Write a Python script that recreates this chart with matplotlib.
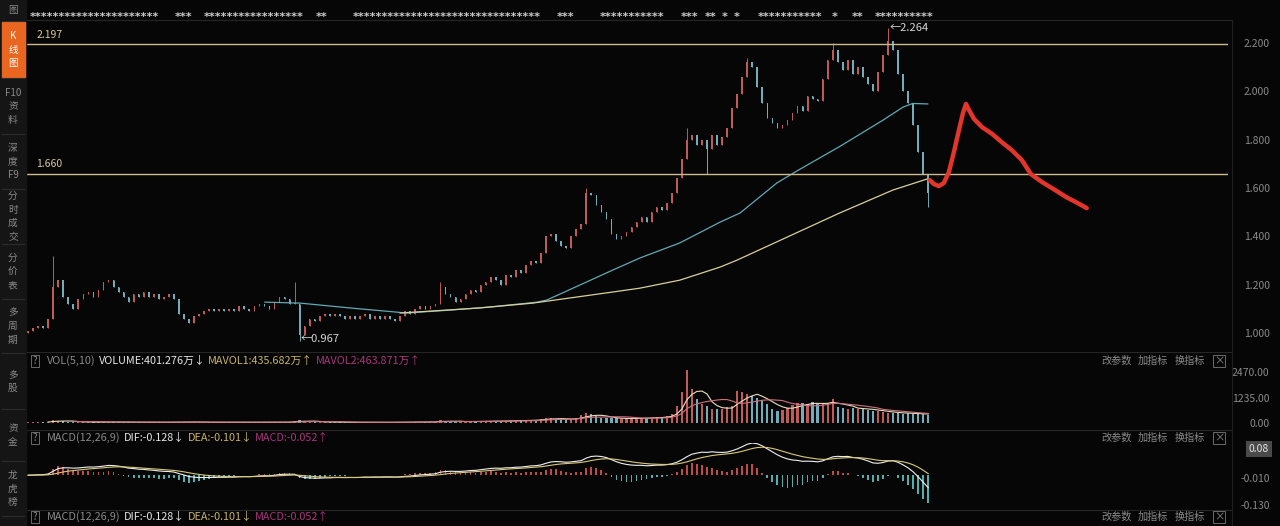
import numpy as np
import pandas as pd
import matplotlib
matplotlib.use("Agg")
import matplotlib.pyplot as plt
from matplotlib.patches import Rectangle

plt.rcParams['font.family'] = ['Noto Sans CJK SC', 'DejaVu Sans']

# ============================================
# DONNEES
# ============================================
close = [
    1.01, 1.02, 1.03, 1.02, 1.06, 1.19, 1.22, 1.15, 1.12, 1.10,
    1.14, 1.16, 1.17, 1.15, 1.18, 1.21, 1.22, 1.19, 1.17, 1.15,
    1.13, 1.16, 1.15, 1.17, 1.15, 1.16, 1.14, 1.15, 1.16, 1.14,
    1.08, 1.06, 1.04, 1.07, 1.08, 1.09, 1.10, 1.09, 1.10, 1.09,
    1.10, 1.09, 1.11, 1.10, 1.09, 1.11, 1.12, 1.11, 1.10, 1.13,
    1.15, 1.14, 1.12, 1.12, 0.99, 1.03, 1.06, 1.05, 1.07, 1.08,
    1.07, 1.08, 1.07, 1.06, 1.07, 1.06, 1.07, 1.08, 1.06, 1.07,
    1.06, 1.07, 1.06, 1.05, 1.07, 1.09, 1.08, 1.10, 1.11, 1.10,
    1.11, 1.12, 1.19, 1.16, 1.15, 1.13, 1.14, 1.16, 1.18, 1.17,
    1.20, 1.21, 1.23, 1.22, 1.20, 1.24, 1.23, 1.26, 1.25, 1.28,
    1.30, 1.29, 1.33, 1.40, 1.41, 1.38, 1.36, 1.35, 1.40, 1.43,
    1.45, 1.58, 1.57, 1.53, 1.50, 1.47, 1.41, 1.39, 1.40, 1.42,
    1.44, 1.46, 1.48, 1.46, 1.50, 1.52, 1.51, 1.54, 1.58, 1.64,
    1.72, 1.80, 1.82, 1.78, 1.80, 1.76, 1.82, 1.78, 1.81, 1.85,
    1.93, 1.99, 2.06, 2.12, 2.10, 2.02, 1.95, 1.89, 1.87, 1.85,
    1.86, 1.88, 1.91, 1.94, 1.92, 1.98, 1.97, 1.96, 2.05, 2.13,
    2.17, 2.12, 2.09, 2.13, 2.07, 2.10, 2.06, 2.03, 2.00, 2.08,
    2.15, 2.21, 2.17, 2.07, 2.00, 1.95, 1.86, 1.75, 1.66, 1.58,
]
first_open = 1.00
wick_high = {5: 1.32, 53: 1.21, 82: 1.21, 111: 1.60, 131: 1.85, 143: 2.14, 160: 2.20, 171: 2.264}
wick_low = {54: 0.967, 135: 1.66, 179: 1.52}

volume = [
    40, 35, 45, 50, 70, 160, 120, 80, 60, 50,
    45, 50, 40, 45, 55, 50, 45, 40, 45, 40,
    40, 35, 40, 38, 35, 40, 36, 35, 38, 35,
    60, 50, 45, 40, 38, 36, 35, 34, 36, 35,
    34, 35, 33, 36, 35, 38, 40, 42, 45, 40,
    42, 40, 38, 110, 150, 80, 60, 50, 45, 42,
    40, 38, 36, 35, 34, 35, 33, 32, 34, 33,
    34, 35, 33, 36, 40, 45, 50, 55, 52, 50,
    55, 60, 150, 90, 70, 60, 65, 70, 75, 72,
    80, 85, 90, 95, 100, 110, 105, 120, 130, 125,
    140, 150, 200, 260, 220, 190, 180, 170, 200, 260,
    380, 480, 420, 320, 260, 230, 250, 220, 200, 210,
    230, 240, 250, 230, 260, 280, 300, 350, 420, 820,
    1480, 2550, 1650, 1150, 900, 800, 660, 700, 660, 780,
    820, 1560, 1500, 1400, 1300, 1200, 1070, 900, 700, 600,
    650, 750, 880, 990, 950, 900, 1000, 920, 960, 980,
    1150, 780, 740, 700, 720, 680, 660, 650, 600, 560,
    540, 500, 480, 480, 459, 470, 450, 430, 430, 401,
]

# moyennes mobiles (indice de barre, prix)
ma_cyan_idx = [47.1, 54.1, 64.0, 75.3, 83.9, 91.8, 101.2, 103.2, 116.3, 121.7, 129.6,
               137.6, 141.6, 148.9, 152.9, 161.4, 170.0, 174.0, 175.9, 178.9]
ma_cyan_val = [1.128, 1.124, 1.104, 1.083, 1.095, 1.108, 1.128, 1.137, 1.261, 1.311, 1.373,
               1.459, 1.497, 1.621, 1.671, 1.772, 1.881, 1.935, 1.950, 1.948]
ma_yel_idx = [74.0, 89.9, 100.4, 116.3, 121.7, 129.6, 137.6, 141.0, 161.4, 172.0, 178.7]
ma_yel_val = [1.083, 1.104, 1.124, 1.170, 1.186, 1.219, 1.273, 1.302, 1.497, 1.592, 1.637]

# trait rouge dessine a la main
red_idx = [179.3, 180.1, 181.1, 182.1, 183.1, 184.1, 185.1, 185.9, 186.5, 187.1, 188.1,
           189.7, 191.7, 193.6, 195.6, 197.6, 199.4, 201.6, 203.9, 206.4, 208.7, 210.5]
red_val = [1.633, 1.617, 1.608, 1.621, 1.666, 1.749, 1.840, 1.910, 1.948, 1.923, 1.886,
           1.852, 1.824, 1.790, 1.757, 1.716, 1.658, 1.625, 1.596, 1.563, 1.538, 1.517]

levels = [2.197, 1.660]
price_ticks = [1.0, 1.2, 1.4, 1.6, 1.8, 2.0, 2.2]
vol_ticks = [0, 1235, 2470]

# ============================================
# MISE EN PAGE
# ============================================
W, H = 1280, 526
BG = '#060606'
RED = '#c25a5a'
CYAN = '#70aebb'
GRAY = '#8a8a8a'
KHAKI = '#c9b26a'
MAGENTA = '#a8357a'


def rect(x0, y0, x1, y1):
    return [x0 / W, 1 - y1 / H, (x1 - x0) / W, (y1 - y0) / H]


fig = plt.figure(figsize=(12.8, 5.26), dpi=100, facecolor=BG)
XLIM = (-0.4, 238.6)

c = np.array(close)
o = np.r_[first_open, c[:-1]]
hi = np.maximum(o, c)
lo = np.minimum(o, c)
for k, v in wick_high.items():
    hi[k] = v
for k, v in wick_low.items():
    lo[k] = v
x = np.arange(len(c))
cols = np.where(c >= o, RED, CYAN)


def style_axis(a):
    a.set_facecolor(BG)
    a.set_xlim(*XLIM)
    for s in a.spines.values():
        s.set_visible(False)
    a.set_xticks([])
    a.yaxis.tick_right()
    a.tick_params(axis='y', length=0, colors=GRAY, labelsize=7.5, pad=30)
    for lab in a.get_yticklabels():
        lab.set_horizontalalignment('right')


# --- prix ---
ax = fig.add_axes(rect(26, 22, 1228, 350))
ax.set_ylim(0.930, 2.287)
ax.set_yticks(price_ticks)
ax.set_yticklabels([f'{t:.3f}' for t in price_ticks])
style_axis(ax)

ax.vlines(x, lo, hi, colors=cols, lw=0.7)
ax.bar(x, np.maximum(np.abs(c - o), 0.004), bottom=np.minimum(o, c), width=0.32,
       color=cols, lw=0)
ax.plot(ma_cyan_idx, ma_cyan_val, color='#62a9b4', lw=0.9)
ax.plot(ma_yel_idx, ma_yel_val, color='#d8cf9c', lw=0.9)

for lv in levels:
    ax.axhline(lv, color='#cdb98f', lw=1.0)
    ax.annotate(f'{lv:.3f}', (1.6, lv), xytext=(0, 3), textcoords='offset points',
                color='#d9c99c', fontsize=7.5, va='bottom')

ax.text(171.4, 2.264, '←2.264', color='#d6d6d6', fontsize=8, va='center', ha='left')
ax.text(54.3, 0.975, '←0.967', color='#d6d6d6', fontsize=8, va='center', ha='left')

ax.plot(red_idx, red_val, color='#e2352b', lw=3.2, solid_capstyle='round',
        solid_joinstyle='round')

# --- volume ---
av = fig.add_axes(rect(26, 362, 1228, 426))
av.set_ylim(-145, 2954)
av.set_yticks(vol_ticks)
av.set_yticklabels([f'{t:.2f}' for t in vol_ticks])
style_axis(av)
vol = np.array(volume, dtype=float)
av.bar(x, vol, width=0.45, color=cols, lw=0)
vs = pd.Series(vol)
av.plot(x, vs.rolling(5).mean(), color='#e8dfbf', lw=0.8)
av.plot(x, vs.rolling(10).mean(), color='#d0707e', lw=0.8)

# --- MACD ---
am = fig.add_axes(rect(26, 443, 1228, 510))
style_axis(am)
am.set_yticks([])
cs = pd.Series(c)
dif = cs.ewm(span=12, adjust=False).mean() - cs.ewm(span=26, adjust=False).mean()
dea = dif.ewm(span=9, adjust=False).mean()
hist = 2 * (dif - dea)
lim = float(np.nanmax(np.abs(np.r_[dif.values, hist.values])))
am.set_ylim(-lim * 1.08, lim * 1.0)
am.bar(x, hist, width=0.35, color=np.where(hist >= 0, '#c04a48', '#4fb0b0'), lw=0)
am.plot(x, dif, color='#f0f0f0', lw=0.8)
am.plot(x, dea, color='#d8c878', lw=0.8)

# ============================================
# DECORATIONS (coordonnees pixel)
# ============================================
ov = fig.add_axes([0, 0, 1, 1], zorder=10)
ov.set_xlim(0, W)
ov.set_ylim(H, 0)
ov.axis('off')
ov.patch.set_alpha(0)

# barre laterale
ov.add_patch(Rectangle((0, 0), 26, H, color='#151515', zorder=0))
ov.add_patch(Rectangle((2, 22), 23, 55, color='#e8661f', zorder=1))
side = [("图", 0, 20), ("K\n线\n图", 22, 77), ("F10\n资\n料", 80, 133), ("深\n度\nF9", 135, 188),
        ("分\n时\n成\n交", 190, 243), ("分\n价\n表", 245, 298), ("多\n周\n期", 300, 352),
        ("多\n股", 355, 408), ("资\n金", 410, 460), ("龙\n虎\n榜", 462, 515)]
for lab, y0, y1 in side:
    col = 'white' if lab.startswith('K') else GRAY
    ov.text(13, (y0 + y1) / 2, lab, color=col, fontsize=7, ha='center', va='center',
            linespacing=1.45)
    ov.plot([2, 24], [y1 + 1, y1 + 1], color='#2c2c2c', lw=0.8)

# separateurs
for yy in [20, 352, 430, 510]:
    ov.plot([27, 1232], [yy, yy], color='#262626', lw=0.8)
ov.plot([1232, 1232], [20, H], color='#202020', lw=0.8)

# rangee de marqueurs en haut
marks = [(30, 160), (175, 192), (204, 304), (316, 330), (353, 547), (557, 575), (600, 665),
         (681, 697), (705, 715), (722, 728), (734, 740), (758, 824), (832, 840), (852, 862),
         (875, 934)]
for x0, x1 in marks:
    n = max(1, int(round((x1 - x0) / 6.0)))
    ov.text(x0, 17, '*' * n, color='#cfcfcf', fontsize=8, fontweight='bold',
            family='DejaVu Sans', ha='left', va='center')


def label_row(y, parts):
    ov.text(35, y, '?', color=GRAY, fontsize=7, ha='center', va='center',
            bbox=dict(boxstyle='square,pad=0.15', fc='none', ec='#6a6a6a', lw=0.7))
    for xx, txt, col in parts:
        ov.text(xx, y, txt, color=col, fontsize=7.8, ha='left', va='center')
    for xx, txt in [(1101, '改参数'), (1138, '加指标'), (1175, '换指标')]:
        ov.text(xx, y, txt, color=GRAY, fontsize=7.3, ha='left', va='center')
    ov.text(1219, y, '×', color=GRAY, fontsize=7.5, ha='center', va='center',
            bbox=dict(boxstyle='square,pad=0.12', fc='none', ec='#6a6a6a', lw=0.7))


label_row(361, [(47, 'VOL(5,10)', GRAY), (99, 'VOLUME:401.276万↓', '#e6e6e6'),
                (208, 'MAVOL1:435.682万↑', KHAKI), (316, 'MAVOL2:463.871万↑', MAGENTA)])
macd_parts = [(47, 'MACD(12,26,9)', GRAY), (124, 'DIF:-0.128↓', '#e6e6e6'),
              (188, 'DEA:-0.101↓', KHAKI), (255, 'MACD:-0.052↑', MAGENTA)]
label_row(438, macd_parts)
label_row(517, macd_parts)

# etiquettes de droite du MACD
ov.text(1269, 449, '0.08', color='#e6e6e6', fontsize=7.5, ha='right', va='center',
        bbox=dict(boxstyle='square,pad=0.25', fc='#4a4a4a', ec='none'))
ov.text(1270, 479, '-0.010', color=GRAY, fontsize=7.5, ha='right', va='center')
ov.text(1270, 506, '-0.130', color=GRAY, fontsize=7.5, ha='right', va='center')

fig.savefig('out.png', dpi=100, facecolor=fig.get_facecolor())
